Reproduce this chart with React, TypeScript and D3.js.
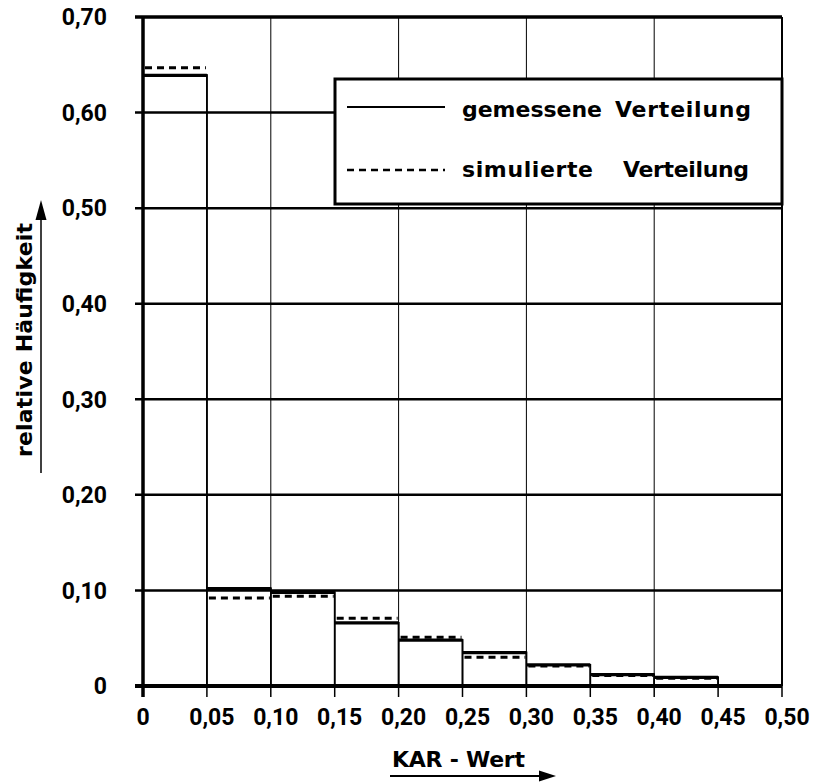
import React from "react";
import * as d3 from "d3";

const binStarts = [0, 0.05, 0.1, 0.15, 0.2, 0.25, 0.3, 0.35, 0.4, 0.45];
const binWidth = 0.05;
const measured = [0.639, 0.102, 0.098, 0.066, 0.048, 0.035, 0.022, 0.012, 0.009, 0.0];
const simulated = [0.647, 0.092, 0.094, 0.071, 0.051, 0.03, 0.021, 0.011, 0.008, 0.0];
const xTicks = [0, 0.05, 0.1, 0.15, 0.2, 0.25, 0.3, 0.35, 0.4, 0.45, 0.5];
const xTickLabels = ["0", "0,05", "0,10", "0,15", "0,20", "0,25", "0,30", "0,35", "0,40", "0,45", "0,50"];
const yTicks = [0, 0.1, 0.2, 0.3, 0.4, 0.5, 0.6, 0.7];
const yTickLabels = ["0", "0,10", "0,20", "0,30", "0,40", "0,50", "0,60", "0,70"];
const verticalGrid = [0.1, 0.2, 0.3, 0.4, 0.5];
const legendItems = [
  { w1: "gemessene", w2: "Verteilung", dashed: false },
  { w1: "simulierte", w2: "Verteilung", dashed: true },
];

const NUMFONT = "Roboto, 'DejaVu Sans', sans-serif";
const TEXTFONT = "'DejaVu Sans', Roboto, sans-serif";

export default function App() {
  const x = d3.scaleLinear().domain([0, 0.5]).range([143, 782]);
  const y = d3.scaleLinear().domain([0, 0.7]).range([686, 17]);
  const ink = "#000";

  return (
    <svg
      width={818}
      height={783}
      style={{ position: "absolute", left: 0, top: 0, background: "#fff" }}
      fontFamily={NUMFONT}
    >
      <rect x={0} y={0} width={818} height={783} fill="#fff" />
      {/* vertical grid */}
      {verticalGrid.map((v) => (
        <line
          key={"vg" + v}
          x1={x(v)}
          x2={x(v)}
          y1={y(0.7)}
          y2={y(0)}
          stroke={ink}
          strokeWidth={v === 0.5 ? 2 : 1}
        />
      ))}
      {/* horizontal grid */}
      {yTicks.map((v) => (
        <line
          key={"hg" + v}
          x1={135}
          x2={x(0.5)}
          y1={y(v)}
          y2={y(v)}
          stroke={ink}
          strokeWidth={v === 0 ? 4 : v === 0.7 ? 3.5 : 2.5}
        />
      ))}
      {/* bottom ticks */}
      {xTicks.map((v) => (
        <line key={"xt" + v} x1={x(v)} x2={x(v)} y1={y(0)} y2={y(0) + 11} stroke={ink} strokeWidth={1.5} />
      ))}
      {/* left axis */}
      <line x1={x(0)} x2={x(0)} y1={y(0.7) - 1} y2={y(0) + 11} stroke={ink} strokeWidth={3.5} />

      {/* measured histogram: bin edges */}
      {binStarts.map((b, i) => {
        if (i === 0) return null;
        const top = Math.max(measured[i - 1], measured[i]);
        return (
          <line
            key={"edge" + i}
            x1={x(b)}
            x2={x(b)}
            y1={y(top) - 1}
            y2={y(0)}
            stroke={ink}
            strokeWidth={1.6}
          />
        );
      })}
      {binStarts.map((b, i) =>
        measured[i] > 0 ? (
          <line
            key={"edgeEnd" + i}
            x1={x(b + binWidth)}
            x2={x(b + binWidth)}
            y1={y(measured[i]) - 1}
            y2={y(0)}
            stroke={ink}
            strokeWidth={1.6}
          />
        ) : null
      )}
      {/* simulated tops */}
      {binStarts.map((b, i) =>
        simulated[i] > 0 ? (
          <line
            key={"sim" + i}
            x1={x(b) + 2}
            x2={x(b + binWidth) - 1}
            y1={y(simulated[i])}
            y2={y(simulated[i])}
            stroke={ink}
            strokeWidth={3}
            strokeDasharray="7,5"
          />
        ) : null
      )}
      {/* measured tops */}
      {binStarts.map((b, i) =>
        measured[i] > 0 ? (
          <line
            key={"meas" + i}
            x1={x(b)}
            x2={x(b + binWidth)}
            y1={y(measured[i])}
            y2={y(measured[i])}
            stroke={ink}
            strokeWidth={3.2}
          />
        ) : null
      )}

      {/* legend */}
      <rect x={335} y={79} width={447} height={125} fill="#fff" stroke={ink} strokeWidth={3} />
      {legendItems.map((it, i) => {
        const ly = i === 0 ? 107 : 170;
        const by = i === 0 ? 117 : 177;
        return (
          <g key={"leg" + i} fontFamily={TEXTFONT}>
            <line
              x1={347}
              x2={445}
              y1={ly}
              y2={ly}
              stroke={ink}
              strokeWidth={it.dashed ? 2.5 : 2.2}
              strokeDasharray={it.dashed ? "7,5" : undefined}
            />
            <text x={462} y={by} fontSize={22} fontWeight={700} textLength={i === 0 ? 140 : 131} lengthAdjust="spacing">
              {it.w1}
            </text>
            <text x={i === 0 ? 615 : 623} y={by} fontSize={22} fontWeight={700} textLength={i === 0 ? 136 : 126} lengthAdjust="spacing">
              {it.w2}
            </text>
          </g>
        );
      })}

      {/* y tick labels */}
      {yTicks.map((v, i) => (
        <text
          key={"yl" + v}
          x={107}
          y={y(v)}
          dy="0.36em"
          textAnchor="end"
          fontSize={23}
          fontWeight={700}
        >
          {yTickLabels[i]}
        </text>
      ))}
      {/* x tick labels */}
      {xTicks.map((v, i) => (
        <text
          key={"xl" + v}
          x={x(v) + (i === 0 ? 0 : 5)}
          y={725}
          textAnchor="middle"
          fontSize={23}
          fontWeight={700}
        >
          {xTickLabels[i]}
        </text>
      ))}

      {/* y axis title with arrow */}
      <text
        transform="translate(32,340) rotate(-90)"
        textAnchor="middle"
        fontFamily={TEXTFONT}
        fontSize={22}
        fontWeight={700}
        textLength={234}
        lengthAdjust="spacing"
      >
        relative Häufigkeit
      </text>
      <line x1={41} x2={41} y1={473} y2={216} stroke={ink} strokeWidth={1.5} />
      <path d="M41,200 L35.5,220 L46.5,220 Z" fill={ink} />

      {/* x axis title with arrow */}
      <text x={392} y={767} fontFamily={TEXTFONT} fontSize={22} fontWeight={700} textLength={133} lengthAdjust="spacing">
        KAR - Wert
      </text>
      <line x1={390} x2={542} y1={776} y2={776} stroke={ink} strokeWidth={2} />
      <path d="M556,776 L539,770.5 L539,781.5 Z" fill={ink} />
    </svg>
  );
}
